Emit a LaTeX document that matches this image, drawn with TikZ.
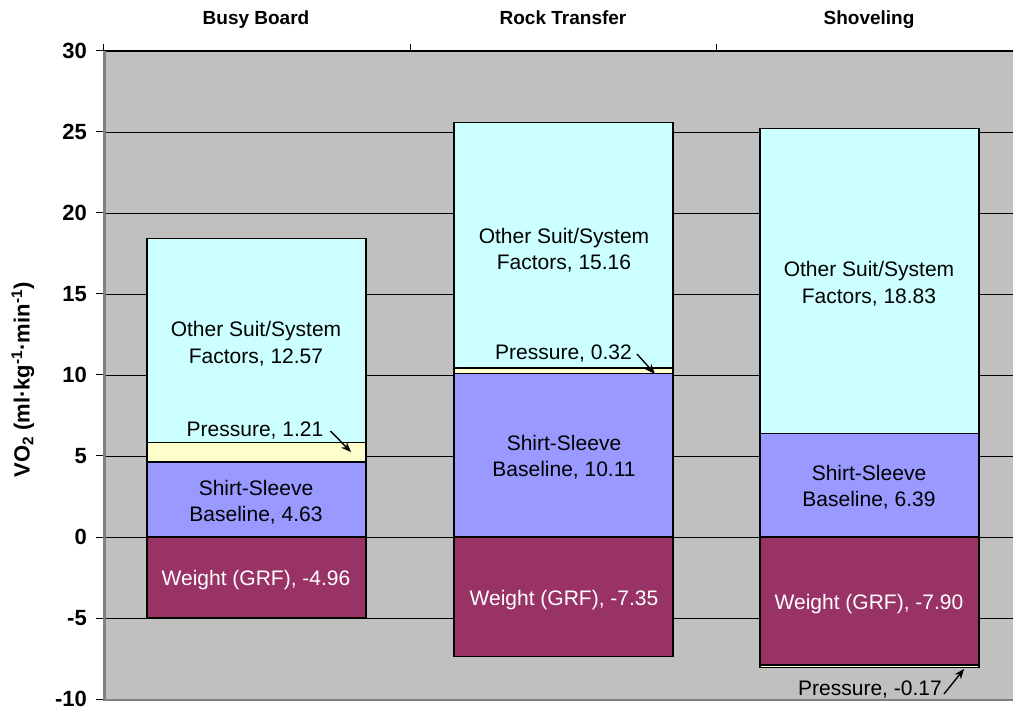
\documentclass[tikz,border=0pt]{standalone}
\usepackage{fontspec}
\setmainfont{Liberation Sans}
\usetikzlibrary{arrows.meta}
\definecolor{plotgray}{HTML}{C0C0C0}
\definecolor{axisgray}{HTML}{808080}
\definecolor{othercyan}{HTML}{CCFFFF}
\definecolor{pressyellow}{HTML}{FFFFCC}
\definecolor{shirtblue}{HTML}{9999FF}
\definecolor{weightmaroon}{HTML}{993366}
\newcommand\py[1]{537-16.2*(#1)}
\newcommand\barseg[5]{\filldraw[seg, fill=#5] (#1,{\py{#3}}) rectangle (#2,{\py{#4}});}
\begin{document}
\begin{tikzpicture}[x=1pt,y=-1pt,
  seg/.style={draw=black, line width=1.1pt},
  lbl/.style={font=\fontsize{21}{26.5}\selectfont, align=center, inner sep=0pt},
  wlbl/.style={lbl, text=white},
  cat/.style={font=\fontsize{19}{22}\selectfont\bfseries, inner sep=0pt, anchor=base},
  ticklbl/.style={font=\fontsize{22}{24}\selectfont\bfseries, inner sep=0pt, anchor=east},
  ptr/.style={-{Stealth[length=10pt,width=8pt]}, line width=1.4pt}]
\useasboundingbox (0,0) rectangle (1013,711);
\fill[white] (0,0) rectangle (1013,711);
% plot area
\fill[plotgray] (103,51) rectangle (1013,699);
\foreach \v in {-5,0,...,25} \draw[line width=0.9pt] (104,{\py{\v}}) -- (1013,{\py{\v}});
\draw[line width=1.1pt] (103,51) -- (1013,51);
\draw[axisgray, line width=2.5pt] (104.3,51) -- (104.3,700);
\draw[axisgray, line width=2.5pt] (103,700) -- (1013,700);
\foreach \v [count=\i] in {-10,-5,0,5,10,15,20,25,30} {
  \draw[line width=1pt] (96,{\py{\v}}) -- (103,{\py{\v}});
  \node[ticklbl] (tk\i) at (87,{\py{\v}}) {\v};
}
\foreach \xx in {103.5,410,716} \draw[line width=1pt] (\xx,44) -- (\xx,51);
% category labels
\node[cat] (c1) at (256,25) {Busy Board};
\node[cat] (c2) at (563,25) {Rock Transfer};
\node[cat] (c3) at (869,25) {Shoveling};
% y label
\node[rotate=90, font=\fontsize{22}{24}\selectfont\bfseries, inner sep=0pt] (ylab) at (23,380) {VO\textsubscript{2} (ml·kg\textsuperscript{-1}·min\textsuperscript{-1})};
% Busy Board
\barseg{147}{366}{0}{-4.96}{weightmaroon}
\barseg{147}{366}{0}{4.63}{shirtblue}
\barseg{147}{366}{5.84}{18.41}{othercyan}
\barseg{147}{366}{4.63}{5.84}{pressyellow}
% Rock Transfer
\barseg{454}{673}{0}{-7.35}{weightmaroon}
\barseg{454}{673}{0}{10.11}{shirtblue}
\barseg{454}{673}{10.43}{25.59}{othercyan}
\barseg{454}{673}{10.11}{10.43}{pressyellow}
% Shoveling
\barseg{760}{979}{0}{-7.90}{weightmaroon}
\barseg{760}{979}{0}{6.39}{shirtblue}
\barseg{760}{979}{6.39}{25.22}{othercyan}
\barseg{760}{979}{-7.90}{-8.07}{pressyellow}
% labels Busy Board
\node[lbl] (bo) at (256,343.5) {Other Suit/System\\Factors, 12.57};
\node[lbl, anchor=base] (bp) at (255,437) {Pressure, 1.21};
\node[lbl] (bs) at (256,502) {Shirt-Sleeve\\Baseline, 4.63};
\node[wlbl, anchor=base] (bw) at (256,585) {Weight (GRF), -4.96};
\coordinate (bpt) at (351,452);
\draw[ptr] ([xshift=7pt]bp.east) -- (bpt);
% labels Rock Transfer
\node[lbl] (ro) at (564,250) {Other Suit/System\\Factors, 15.16};
\node[lbl, anchor=base] (rp) at (563.5,360) {Pressure, 0.32};
\node[lbl] (rs) at (564,457) {Shirt-Sleeve\\Baseline, 10.11};
\node[wlbl, anchor=base] (rw) at (564,605) {Weight (GRF), -7.35};
\coordinate (rpt) at (655,374);
\draw[ptr] ([xshift=5pt]rp.east) -- (rpt);
% labels Shoveling
\node[lbl] (so) at (869,283.5) {Other Suit/System\\Factors, 18.83};
\node[lbl] (ss) at (869,487) {Shirt-Sleeve\\Baseline, 6.39};
\node[wlbl, anchor=base] (sw) at (869,609) {Weight (GRF), -7.90};
\node[lbl, anchor=base] (sp) at (870,695) {Pressure, -0.17};
\coordinate (spt) at (964,669);
\draw[ptr] ([xshift=2pt,yshift=-5pt]sp.east) -- (spt);
\end{tikzpicture}
\end{document}
